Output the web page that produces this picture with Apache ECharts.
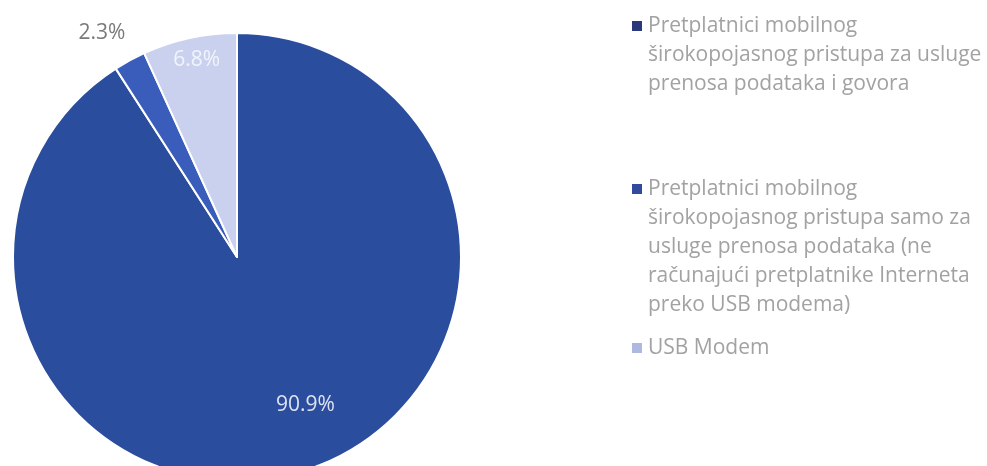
<!DOCTYPE html>
<html>
<head>
<meta charset="utf-8">
<script src="https://cdn.jsdelivr.net/npm/echarts@6/dist/echarts.min.js"></script>
<style>
  html, body { margin: 0; padding: 0; background: #fff; }
  #chart { width: 987px; height: 466px; }
</style>
</head>
<body>
<div id="chart"></div>
<script>
// podaci
var categories = [
    'Pretplatnici mobilnog širokopojasnog pristupa za usluge prenosa podataka i govora',
    'Pretplatnici mobilnog širokopojasnog pristupa samo za usluge prenosa podataka (ne računajući pretplatnike Interneta preko USB modema)',
    'USB Modem'
];
var values = [90.9, 2.3, 6.8];
var legendLines = [
    ['Pretplatnici mobilnog', 'širokopojasnog pristupa za usluge', 'prenosa podataka i govora'],
    ['Pretplatnici mobilnog', 'širokopojasnog pristupa samo za', 'usluge prenosa podataka (ne', 'računajući pretplatnike Interneta', 'preko USB modema)'],
    ['USB Modem']
];

var sliceColors = ['#2b4d9e', '#3a5dbb', '#c9d1ee'];
var iconColors = ['#29397c', '#33499b', '#aeb9e2'];
var labelColors = ['#dde3f3', '#7a7a7a', '#f2f4fb'];
var labelOffsets = [[36, 38], [-80, -123], [-16, -85]];

var LINE_H = 29;
var iconCenters = [26, 189, 348];

var chart = echarts.init(document.getElementById('chart'));

var legends = categories.map(function (name, i) {
    var n = legendLines[i].length;
    var blockH = (2 * n - 1) * LINE_H;
    return {
        orient: 'vertical',
        left: 630,
        top: iconCenters[i] - blockH / 2,
        padding: 0,
        icon: 'rect',
        itemWidth: 12,
        itemHeight: 12,
        itemGap: 0,
        selectedMode: false,
        data: [{ name: name, itemStyle: { color: iconColors[i] } }],
        formatter: function () {
            var pre = [];
            for (var k = 0; k < n - 1; k++) pre.push('');
            return pre.concat(legendLines[i]).join('\n');
        },
        textStyle: {
            fontFamily: 'Open Sans',
            fontSize: 21,
            lineHeight: LINE_H,
            color: '#a2a2a2'
        }
    };
});

var option = {
    backgroundColor: '#ffffff',
    animation: false,
    legend: legends,
    series: [{
        type: 'pie',
        center: [237, 257],
        radius: 224,
        startAngle: 90,
        clockwise: true,
        avoidLabelOverlap: false,
        itemStyle: { borderColor: '#ffffff', borderWidth: 2 },
        labelLine: { show: false },
        emphasis: { disabled: true },
        data: categories.map(function (name, i) {
            return {
                name: name,
                value: values[i],
                itemStyle: { color: sliceColors[i] },
                label: {
                    show: true,
                    position: 'inside',
                    offset: labelOffsets[i],
                    formatter: function (p) { return p.value.toFixed(1) + '%'; },
                    fontFamily: 'Open Sans',
                    fontSize: 21,
                    color: labelColors[i]
                }
            };
        })
    }]
};

chart.setOption(option);

window.addEventListener('resize', function () {
    chart.resize();
});
</script>
</body>
</html>
